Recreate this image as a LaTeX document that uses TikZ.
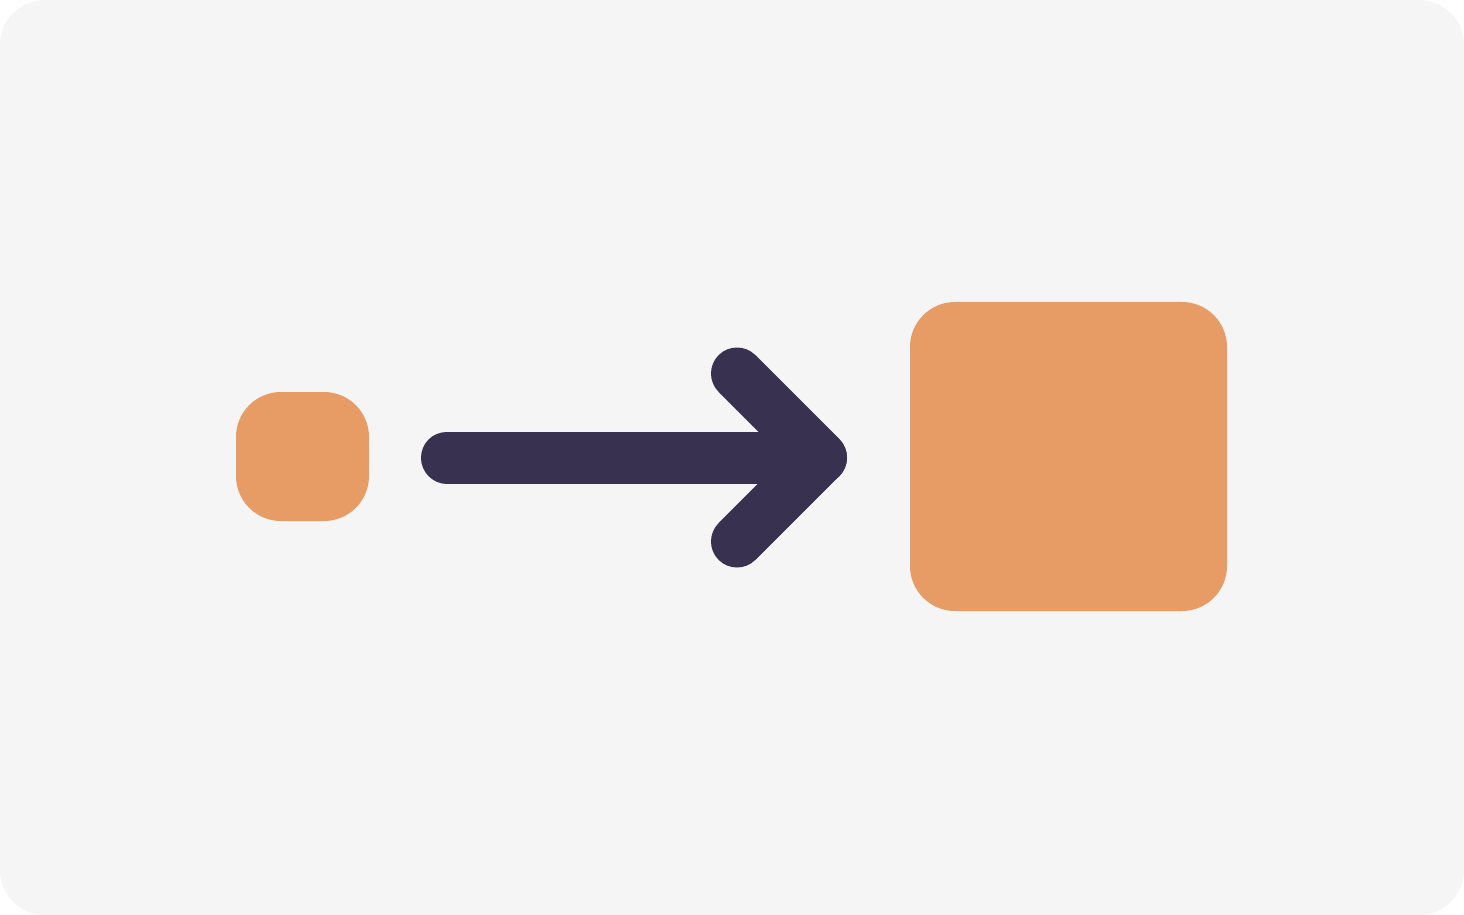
\documentclass[tikz,border=0pt]{standalone}
\definecolor{bgc}{HTML}{F5F5F5}
\definecolor{orangec}{HTML}{E89C65}
\definecolor{darkc}{HTML}{383150}
\begin{document}
\begin{tikzpicture}[x=0.5pt,y=-0.5pt,
  block/.style={fill=orangec, draw=none, rounded corners=22.5pt, inner sep=0pt},
  arrowline/.style={draw=darkc, line width=26pt, line cap=round, line join=round}]
\useasboundingbox (0,0) rectangle (1464,915);
\fill[bgc, rounded corners=22.5pt] (0,0) rectangle (1464,915);
\node[block, minimum width=66.5pt, minimum height=64.5pt] (small) at (302.5,456.5) {};
\node[block, minimum width=158.5pt, minimum height=154.5pt] (big) at (1068.5,456.5) {};
\coordinate (tail) at (447,457.5);
\coordinate (tip) at (821,457.5);
\coordinate (armtop) at (737,373.5);
\coordinate (armbot) at (737,541.5);
\draw[arrowline] (tail) -- (tip);
\draw[arrowline] (armtop) -- (tip) -- (armbot);
\end{tikzpicture}
\end{document}
